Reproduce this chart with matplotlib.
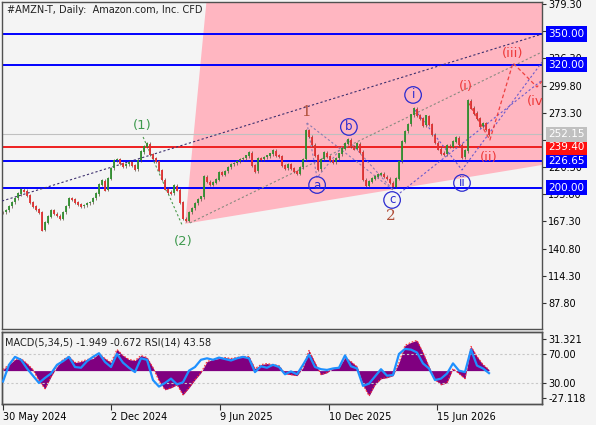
import numpy as np
import matplotlib
matplotlib.use("Agg")
import matplotlib.pyplot as plt
from matplotlib.patches import Polygon

# daily CFD closes, one candle every ~2-3 sessions (oldest first)
closes = [176, 178, 182, 186, 190, 194, 198, 197, 193, 186,
          182, 179, 176, 159, 166, 172, 178, 175, 173, 170,
          176, 182, 190, 189, 186, 184, 182, 183, 185, 186,
          190, 194, 203, 207, 198, 209, 219, 227, 228, 224,
          221, 223, 225, 222, 218, 227, 235, 240, 243, 233,
          229, 226, 217, 208, 199, 196, 195, 202, 198, 186,
          170, 168, 176, 180, 185, 189, 191, 211, 206, 203,
          205, 208, 215, 213, 216, 220, 223, 224, 226, 228,
          229, 231, 234, 222, 216, 229, 228, 230, 231, 233,
          236, 232, 231, 222, 219, 223, 219, 216, 214, 220,
          228, 256, 250, 242, 232, 218, 228, 234, 231, 227,
          225, 229, 233, 238, 243, 247, 240, 238, 243, 235,
          208, 202, 206, 209, 211, 213, 214, 211, 209, 205,
          201, 209, 226, 245, 255, 262, 271, 277, 271, 268,
          261, 270, 262, 252, 244, 238, 234, 233, 241, 240,
          245, 249, 242, 230, 236, 285, 278, 273, 268, 260,
          263, 257, 252.15]

# MACD(5,34,5) main line and RSI(14), one value every 2 candles
macd = [1, 6, 11, 12, 7, 1, -10, -18, -6, 4,
        11, 14, 8, 9, 11, 12, 17, 12, 8, 21,
        15, 11, 10, 15, 13, 3, -10, -19, -17, -14,
        -24, -17, -9, -2, 9, 11, 12, 13, 12, 13,
        14, 14, 2, 6, 7, 6, 5, -3, -4, -5,
        3, 20, 8, -4, -2, 2, 3, 13, 9, 4,
        -14, -25, -14, -8, -7, -5, 8, 25, 28, 30,
        18, 4, -9, -14, -12, 2, -3, -8, 24, 14,
        6, 1]
rsi = [32, 55, 66, 62, 50, 40, 30, 37, 43, 55,
       60, 66, 52, 51, 60, 66, 71, 59, 52, 70,
       58, 51, 45, 64, 62, 34, 25, 30, 36, 28,
       31, 47, 52, 62, 64, 62, 65, 63, 61, 64,
       66, 64, 45, 53, 51, 55, 52, 42, 46, 42,
       55, 69, 52, 49, 48, 50, 51, 68, 53, 50,
       26, 29, 39, 49, 40, 41, 70, 77, 76, 72,
       57, 50, 34, 36, 43, 57, 47, 45, 76, 54,
       50, 43.58]

date_labels = ['30 May 2024', '2 Dec 2024', '9 Jun 2025', '10 Dec 2025', '15 Jun 2026']
date_pos = [0, 36, 72.3, 108.7, 144.7]

price_ticks = [379.3, 352.8, 326.3, 299.8, 273.3, 246.8, 220.3, 193.8, 167.3, 140.8, 114.3, 87.8]
hidden_ticks = [352.8, 246.8]   # fully covered by the level boxes
blue_levels = [350.0, 320.0, 226.65, 200.0]
red_level = 239.4
last_price = 252.15

# wave labels: text, candle index, price
green_waves = [('(1)', 46.3, 261.3), ('(2)', 60.0, 147.3)]
brown_waves = [('1', 101.0, 274.0), ('2', 129.3, 172.6)]
blue_waves = [('a', 104.7, 202.8), ('b', 115.3, 259.4), ('c', 129.7, 188.2),
              ('i', 136.7, 290.6), ('ii', 153.0, 204.8)]
red_waves = [('(i)', 154.3, 298.4), ('(ii)', 162.0, 229.2),
             ('(iii)', 170.0, 331.5), ('(iv)', 178.3, 283.8)]

# pink target zone and wave lines (candle index, price)
zone = [(60.7, 165.0), (68.1, 390.0), (185.0, 390.0), (185.0, 224.9)]
trend_top = ([-0.33, 179.67], [187.2, 350.0])
w12_line = ([46.7, 59.7], [249.6, 163.8])
base_line = ([62.3, 179.67], [165.8, 332.5])
abc_lines = ([101.3, 104.7, 115.0, 130.0], [263.3, 210.0, 247.0, 198.0])
one_to_c = ([101.3, 130.0], [263.3, 198.0])
i_ii_line = ([137.3, 153.0, 179.67], [276.0, 217.5, 322.6])
chan_low = ([132.3, 179.67], [195.0, 305.0])
red_path = ([155.0, 162.3, 170.0, 178.0, 180.0], [283.7, 246.7, 321.8, 298.4, 305.0])

BG = '#f4f4f4'
W, H = 596, 425
fig = plt.figure(figsize=(W / 100, H / 100), dpi=100, facecolor=BG)
ax = fig.add_axes([2 / W, 1 - 329 / H, 540 / W, 327 / H], facecolor=BG)
axm = fig.add_axes([2 / W, 1 - 404 / H, 540 / W, 72 / H], facecolor=BG, sharex=ax)

ax.set_xlim(-0.33, 179.67)
ax.set_ylim(62.4, 381.25)

ax.add_patch(Polygon(zone, closed=True, fc='#ffb6c1', ec='none', zorder=1))

for lvl in blue_levels:
    ax.axhline(lvl, color='#0000ff', lw=1.4, zorder=2)
ax.axhline(red_level, color='#ee2020', lw=1.4, zorder=2)
ax.axhline(last_price, color='#c0c0c0', lw=0.8, zorder=2)

ax.plot(*trend_top, ls=(0, (2, 2)), color='#3c2f6e', lw=0.8, zorder=3)
ax.plot(*w12_line, ls=(0, (2, 2)), color='#4e9a4e', lw=0.8, zorder=3)
ax.plot(*base_line, ls=(0, (2, 2)), color='#8a8a80', lw=0.8, zorder=3)
ax.plot(*abc_lines, ls=(0, (2, 2)), color='#8b7bb0', lw=0.8, zorder=3)
ax.plot(*one_to_c, ls=(0, (2, 2)), color='#8b7bb0', lw=0.8, zorder=3)
ax.plot(*i_ii_line, ls=(0, (2, 2)), color='#6a5acd', lw=0.8, zorder=3)
ax.plot(*chan_low, ls=(0, (2, 2)), color='#6a5acd', lw=0.8, zorder=3)
ax.plot(*red_path, ls=(0, (3, 2)), color='#ee4040', lw=0.9, zorder=3)

# candles
c = np.array(closes, dtype=float)
o = np.r_[c[0], c[:-1]]
x = np.arange(len(c))
up = c >= o
ax.vlines(x, np.minimum(o, c) - 1.5, np.maximum(o, c) + 1.5, color='#5a4a3a', lw=0.5, zorder=4)
ax.vlines(x[up], o[up], c[up] + 0.6, color='#2f8f2f', lw=1.3, zorder=4)
ax.vlines(x[~up], c[~up] - 0.6, o[~up], color='#e03030', lw=1.3, zorder=4)

for t, xi, yi in green_waves:
    ax.text(xi, yi, t, color='#3f9a4f', fontsize=9.5, ha='center', va='center', zorder=6)
for t, xi, yi in brown_waves:
    ax.text(xi, yi, t, color='#b0503a', fontsize=11, family='DejaVu Serif',
            ha='center', va='center', zorder=6)
for t, xi, yi in blue_waves:
    ax.text(xi, yi, t, color='#2a2ad0', fontsize=8.5, ha='center', va='center', zorder=6,
            bbox=dict(boxstyle='circle,pad=0.15', fc='none', ec='#2a2ad0', lw=0.9))
for t, xi, yi in red_waves:
    ax.text(xi, yi, t, color='#ee3a3a', fontsize=9.5, ha='center', va='center', zorder=6,
            clip_on=True)

ax.yaxis.tick_right()
ax.set_yticks(price_ticks)
ax.set_yticklabels(['' if v in hidden_ticks else '%.2f' % v for v in price_ticks])
ax.tick_params(axis='y', length=3, pad=1.5, labelsize=7, color='#303030')
ax.tick_params(axis='x', bottom=False, labelbottom=False)

def price_box(v, fc):
    ax.annotate('%.2f' % v, xy=(1, v), xycoords=('axes fraction', 'data'),
                xytext=(4.5, 0), textcoords='offset points', ha='left', va='center',
                fontsize=7.5, color='white', annotation_clip=False, zorder=7,
                bbox=dict(boxstyle='square,pad=0.25', fc=fc, ec='none'))

for lvl in blue_levels:
    price_box(lvl, '#0000ff')
price_box(red_level, '#ff1010')
price_box(last_price, '#c0c0c0')

fig.text(7 / W, 1 - 10 / H, '#AMZN-T, Daily:  Amazon.com, Inc. CFD', fontsize=7,
         va='center', ha='left', color='#202020')

# indicator window
xi = np.arange(len(macd)) * 2
axm.set_ylim(-33.06, 38.25)
axm.fill_between(xi, 0, macd, color='#800080', lw=0, zorder=2)
axm.plot(xi, macd, ls=(0, (1.5, 1.5)), color='#ff3030', lw=0.8, zorder=3)

axr = axm.twinx()
axr.set_ylim(1, 100.3)
axr.axhline(70, color='#c8c8c8', lw=0.8, ls=(0, (2, 2)), zorder=1)
axr.axhline(30, color='#c8c8c8', lw=0.8, ls=(0, (2, 2)), zorder=1)
axr.plot(xi, rsi, color='#1e90ff', lw=1.6, zorder=4)
axr.set_yticks([70, 30])
axr.set_yticklabels(['70.00', '30.00'])
axr.tick_params(axis='y', length=3, pad=1.5, labelsize=7, color='#303030')

axm.yaxis.tick_right()
axm.set_yticks([31.321, -27.118])
axm.set_yticklabels(['31.321', '-27.118'])
axm.tick_params(axis='y', length=3, pad=1.5, labelsize=7, color='#303030')

axm.text(0.006, 0.86, 'MACD(5,34,5) -1.949 -0.672 RSI(14) 43.58', transform=axm.transAxes,
         fontsize=7, va='center', ha='left', color='#202020', zorder=6)

axm.set_xticks(date_pos)
axm.set_xticklabels(date_labels, ha='left')
axm.tick_params(axis='x', length=4, pad=1.5, labelsize=7, color='#303030')

for a in (ax, axm, axr):
    for s in a.spines.values():
        s.set_color('#505050')
        s.set_linewidth(1.0)

fig.savefig('out.png', dpi=100, facecolor=BG)
